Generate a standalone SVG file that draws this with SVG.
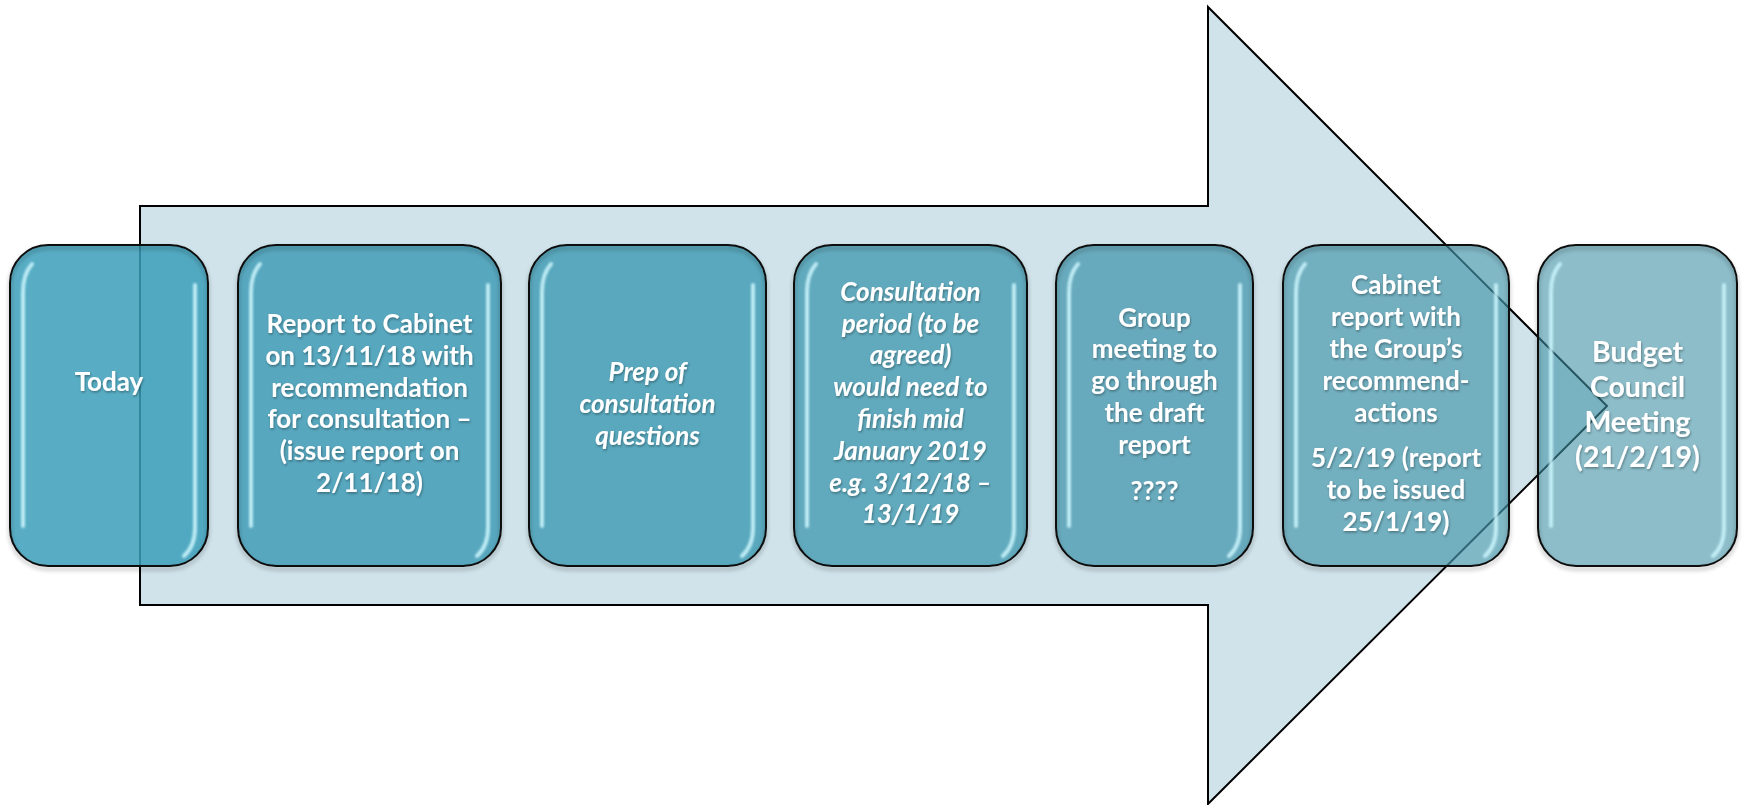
<svg xmlns="http://www.w3.org/2000/svg" width="1742" height="805" viewBox="0 0 1742 805">
<style>
.arrow{fill:#d0e3ea;stroke:#000;stroke-width:2;stroke-linejoin:miter}
.box{stroke:none}
.edge{fill:none;stroke:#111;stroke-width:2}
.hl{fill:none;stroke:#c8f3fb;stroke-width:4;stroke-linecap:round;opacity:0.9}
.t{font-family:Lato,"Liberation Sans",sans-serif;font-weight:bold;font-size:26px;fill:#fff;text-anchor:middle}
.i{font-style:italic}
.big{font-size:28.5px}
</style>
<defs>
<filter id="sh" x="-10%" y="-10%" width="120%" height="120%">
<feDropShadow dx="0" dy="3" stdDeviation="2" flood-color="#000" flood-opacity="0.35"/>
</filter>
<filter id="ts" x="-10%" y="-10%" width="120%" height="130%">
<feDropShadow dx="0.8" dy="1.5" stdDeviation="1" flood-color="#000" flood-opacity="0.35"/>
</filter>
<filter id="bl"><feGaussianBlur stdDeviation="0.8"/></filter>
</defs>
<rect width="1742" height="805" fill="#fff"/>
<g id="connectors">
<polygon class="arrow" points="140,206 1208,206 1208,7 1607,406 1208,804 1208,605 140,605"/>
</g>
<g id="n1">
<rect class="box" x="10" y="245" width="198" height="321" rx="38" fill="#3b9fba" fill-opacity="0.85"/>
<rect class="edge" x="10" y="245" width="198" height="321" rx="38" filter="url(#sh)"/>
<path class="hl" filter="url(#bl)" d="M32,264 Q23,274 23,292 L23,526 M195,285 L195,528 Q195,546 184,556"/>
<text class="t" filter="url(#ts)" x="109" y="391">Today</text>
</g>
<g id="n2">
<rect class="box" x="238" y="245" width="263" height="321" rx="38" fill="#459eb7" fill-opacity="0.88"/>
<rect class="edge" x="238" y="245" width="263" height="321" rx="38" filter="url(#sh)"/>
<path class="hl" filter="url(#bl)" d="M260,264 Q251,274 251,292 L251,526 M488,285 L488,528 Q488,546 477,556"/>
<text class="t" filter="url(#ts)" x="369.5" y="333">Report to Cabinet</text>
<text class="t" filter="url(#ts)" x="369.5" y="365">on 13/11/18 with</text>
<text class="t" filter="url(#ts)" x="369.5" y="397">recommendation</text>
<text class="t" filter="url(#ts)" x="369.5" y="428">for consultation –</text>
<text class="t" filter="url(#ts)" x="369.5" y="460">(issue report on</text>
<text class="t" filter="url(#ts)" x="369.5" y="492">2/11/18)</text>
</g>
<g id="n3">
<rect class="box" x="529" y="245" width="237" height="321" rx="38" fill="#429cb4" fill-opacity="0.84"/>
<rect class="edge" x="529" y="245" width="237" height="321" rx="38" filter="url(#sh)"/>
<path class="hl" filter="url(#bl)" d="M551,264 Q542,274 542,292 L542,526 M753,285 L753,528 Q753,546 742,556"/>
<text class="t i" filter="url(#ts)" x="647.5" y="381">Prep of</text>
<text class="t i" filter="url(#ts)" x="647.5" y="413">consultation</text>
<text class="t i" filter="url(#ts)" x="647.5" y="445">questions</text>
</g>
<g id="n4">
<rect class="box" x="794" y="245" width="233" height="321" rx="38" fill="#459bb2" fill-opacity="0.8"/>
<rect class="edge" x="794" y="245" width="233" height="321" rx="38" filter="url(#sh)"/>
<path class="hl" filter="url(#bl)" d="M816,264 Q807,274 807,292 L807,526 M1014,285 L1014,528 Q1014,546 1003,556"/>
<text class="t i" filter="url(#ts)" x="910.5" y="301">Consultation</text>
<text class="t i" filter="url(#ts)" x="910.5" y="333">period (to be</text>
<text class="t i" filter="url(#ts)" x="910.5" y="364">agreed)</text>
<text class="t i" filter="url(#ts)" x="910.5" y="396">would need to</text>
<text class="t i" filter="url(#ts)" x="910.5" y="428">finish mid</text>
<text class="t i" filter="url(#ts)" x="910.5" y="460">January 2019</text>
<text class="t i" filter="url(#ts)" x="910.5" y="492">e.g. 3/12/18 –</text>
<text class="t i" filter="url(#ts)" x="910.5" y="523">13/1/19</text>
</g>
<g id="n5">
<rect class="box" x="1056" y="245" width="197" height="321" rx="38" fill="#4597ae" fill-opacity="0.75"/>
<rect class="edge" x="1056" y="245" width="197" height="321" rx="38" filter="url(#sh)"/>
<path class="hl" filter="url(#bl)" d="M1078,264 Q1069,274 1069,292 L1069,526 M1240,285 L1240,528 Q1240,546 1229,556"/>
<text class="t" filter="url(#ts)" x="1154.5" y="327">Group</text>
<text class="t" filter="url(#ts)" x="1154.5" y="358">meeting to</text>
<text class="t" filter="url(#ts)" x="1154.5" y="390">go through</text>
<text class="t" filter="url(#ts)" x="1154.5" y="422">the draft</text>
<text class="t" filter="url(#ts)" x="1154.5" y="454">report</text>
<text class="t" filter="url(#ts)" x="1154.5" y="500">????</text>
</g>
<g id="n6">
<rect class="box" x="1283" y="245" width="226" height="321" rx="38" fill="#4697ab" fill-opacity="0.68"/>
<rect class="edge" x="1283" y="245" width="226" height="321" rx="38" filter="url(#sh)"/>
<path class="hl" filter="url(#bl)" d="M1305,264 Q1296,274 1296,292 L1296,526 M1496,285 L1496,528 Q1496,546 1485,556"/>
<text class="t" filter="url(#ts)" x="1396" y="294">Cabinet</text>
<text class="t" filter="url(#ts)" x="1396" y="326">report with</text>
<text class="t" filter="url(#ts)" x="1396" y="358">the Group’s</text>
<text class="t" filter="url(#ts)" x="1396" y="390">recommend-</text>
<text class="t" filter="url(#ts)" x="1396" y="422">actions</text>
<text class="t" filter="url(#ts)" x="1396" y="467">5/2/19 (report</text>
<text class="t" filter="url(#ts)" x="1396" y="499">to be issued</text>
<text class="t" filter="url(#ts)" x="1396" y="531">25/1/19)</text>
</g>
<g id="n7">
<rect class="box" x="1538" y="245" width="199" height="321" rx="38" fill="#3f91a5" fill-opacity="0.6"/>
<rect class="edge" x="1538" y="245" width="199" height="321" rx="38" filter="url(#sh)"/>
<path class="hl" filter="url(#bl)" d="M1560,264 Q1551,274 1551,292 L1551,526 M1724,285 L1724,528 Q1724,546 1713,556"/>
<text class="t big" filter="url(#ts)" x="1637.5" y="362">Budget</text>
<text class="t big" filter="url(#ts)" x="1637.5" y="397">Council</text>
<text class="t big" filter="url(#ts)" x="1637.5" y="432">Meeting</text>
<text class="t big" filter="url(#ts)" x="1637.5" y="467">(21/2/19)</text>
</g>
</svg>
